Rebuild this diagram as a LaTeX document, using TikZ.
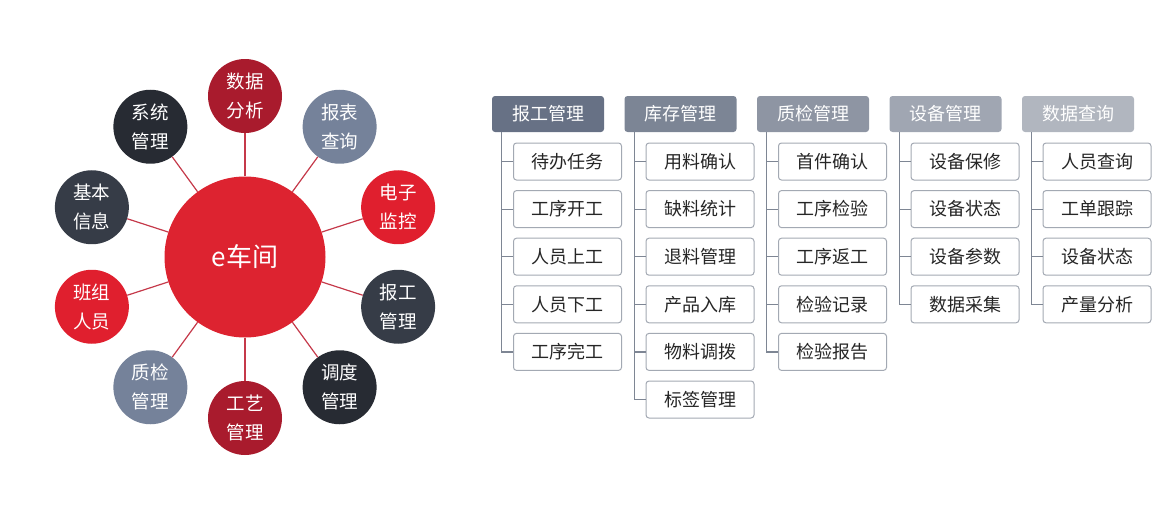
\documentclass[tikz,border=0pt]{standalone}
\usepackage{fontspec}
\setmainfont{Noto Sans CJK SC}
\usepackage{tikz}
\usetikzlibrary{calc}
\definecolor{hubred}{HTML}{DD2330}
\definecolor{brightred}{HTML}{E01F2E}
\definecolor{winered}{HTML}{A91B2D}
\definecolor{slate}{HTML}{75829A}
\definecolor{darkslate}{HTML}{363C47}
\definecolor{nightslate}{HTML}{272B33}
\definecolor{spokered}{HTML}{C5394A}
\definecolor{boxline}{HTML}{A3A9B3}
\definecolor{treeline}{HTML}{7E8694}
\tikzset{
    hubnode/.style={circle, fill=hubred, text=white, minimum size=161pt, inner sep=0pt, font=\fontsize{26}{30}\selectfont},
    sat/.style={circle, text=white, minimum size=74pt, inner sep=0pt, align=center, font=\fontsize{18.5}{29}\selectfont},
    spoke/.style={draw=spokered, line width=1.2pt},
    head/.style={rounded corners=3pt, text=white, minimum width=112pt, minimum height=36pt, inner sep=0pt, font=\fontsize{18}{20}\selectfont},
    item/.style={draw=boxline, line width=1pt, rounded corners=3pt, fill=white, text=black!85, minimum width=108pt, minimum height=37pt, inner sep=0pt, font=\fontsize{18}{20}\selectfont},
    branch/.style={draw=treeline, line width=1.2pt}
}

\begin{document}
\begin{tikzpicture}[x=1pt, y=1pt]
    \useasboundingbox (0,0) rectangle (1152,-514);

    % Nodes
    \node[hubnode] (hub) at (245,-257) {e车间};
    \node[sat, fill=winered] (shujufenxi) at ($(hub)+(90:161)$) {数据\\分析};
    \node[sat, fill=slate] (baobiao) at ($(hub)+(54:161)$) {报表\\查询};
    \node[sat, fill=brightred] (jiankong) at ($(hub)+(18:161)$) {电子\\监控};
    \node[sat, fill=darkslate] (baogongsat) at ($(hub)+(-18:161)$) {报工\\管理};
    \node[sat, fill=nightslate] (diaodu) at ($(hub)+(-54:161)$) {调度\\管理};
    \node[sat, fill=winered] (gongyi) at ($(hub)+(-90:161)$) {工艺\\管理};
    \node[sat, fill=slate] (zhijiansat) at ($(hub)+(-126:161)$) {质检\\管理};
    \node[sat, fill=brightred] (banzu) at ($(hub)+(-162:161)$) {班组\\人员};
    \node[sat, fill=darkslate] (jiben) at ($(hub)+(162:161)$) {基本\\信息};
    \node[sat, fill=nightslate] (xitong) at ($(hub)+(126:161)$) {系统\\管理};

    % edges
    \draw[spoke] (hub) -- (shujufenxi);
    \draw[spoke] (hub) -- (baobiao);
    \draw[spoke] (hub) -- (jiankong);
    \draw[spoke] (hub) -- (baogongsat);
    \draw[spoke] (hub) -- (diaodu);
    \draw[spoke] (hub) -- (gongyi);
    \draw[spoke] (hub) -- (zhijiansat);
    \draw[spoke] (hub) -- (banzu);
    \draw[spoke] (hub) -- (jiben);
    \draw[spoke] (hub) -- (xitong);

    % column heads
    \node[head, fill={rgb,255:red,103;green,113;blue,133}] (baogong) at (548,-114) {报工管理};
    \node[head, fill={rgb,255:red,124;green,133;blue,149}] (kucun) at (680.5,-114) {库存管理};
    \node[head, fill={rgb,255:red,142;green,149;blue,163}] (zhijian) at (813,-114) {质检管理};
    \node[head, fill={rgb,255:red,160;green,166;blue,178}] (shebei) at (945.5,-114) {设备管理};
    \node[head, fill={rgb,255:red,177;green,182;blue,191}] (shuju) at (1078,-114) {数据查询};

    % items
    \node[item] (baogong-1) at (567.5,-161.5) {待办任务};
    \node[item] (baogong-2) at (567.5,-209.1) {工序开工};
    \node[item] (baogong-3) at (567.5,-256.7) {人员上工};
    \node[item] (baogong-4) at (567.5,-304.3) {人员下工};
    \node[item] (baogong-5) at (567.5,-351.9) {工序完工};

    \node[item] (kucun-1) at (700,-161.5) {用料确认};
    \node[item] (kucun-2) at (700,-209.1) {缺料统计};
    \node[item] (kucun-3) at (700,-256.7) {退料管理};
    \node[item] (kucun-4) at (700,-304.3) {产品入库};
    \node[item] (kucun-5) at (700,-351.9) {物料调拨};
    \node[item] (kucun-6) at (700,-399.5) {标签管理};

    \node[item] (zhijian-1) at (832.5,-161.5) {首件确认};
    \node[item] (zhijian-2) at (832.5,-209.1) {工序检验};
    \node[item] (zhijian-3) at (832.5,-256.7) {工序返工};
    \node[item] (zhijian-4) at (832.5,-304.3) {检验记录};
    \node[item] (zhijian-5) at (832.5,-351.9) {检验报告};

    \node[item] (shebei-1) at (965,-161.5) {设备保修};
    \node[item] (shebei-2) at (965,-209.1) {设备状态};
    \node[item] (shebei-3) at (965,-256.7) {设备参数};
    \node[item] (shebei-4) at (965,-304.3) {数据采集};

    \node[item] (shuju-1) at (1097,-161.5) {人员查询};
    \node[item] (shuju-2) at (1097,-209.1) {工单跟踪};
    \node[item] (shuju-3) at (1097,-256.7) {设备状态};
    \node[item] (shuju-4) at (1097,-304.3) {产量分析};

    % tree lines
    \draw[branch] ([xshift=10pt]baogong.south west) |- (baogong-1.west);
    \draw[branch] ([xshift=10pt]baogong.south west) |- (baogong-2.west);
    \draw[branch] ([xshift=10pt]baogong.south west) |- (baogong-3.west);
    \draw[branch] ([xshift=10pt]baogong.south west) |- (baogong-4.west);
    \draw[branch] ([xshift=10pt]baogong.south west) |- (baogong-5.west);

    \draw[branch] ([xshift=10pt]kucun.south west) |- (kucun-1.west);
    \draw[branch] ([xshift=10pt]kucun.south west) |- (kucun-2.west);
    \draw[branch] ([xshift=10pt]kucun.south west) |- (kucun-3.west);
    \draw[branch] ([xshift=10pt]kucun.south west) |- (kucun-4.west);
    \draw[branch] ([xshift=10pt]kucun.south west) |- (kucun-5.west);
    \draw[branch] ([xshift=10pt]kucun.south west) |- (kucun-6.west);

    \draw[branch] ([xshift=10pt]zhijian.south west) |- (zhijian-1.west);
    \draw[branch] ([xshift=10pt]zhijian.south west) |- (zhijian-2.west);
    \draw[branch] ([xshift=10pt]zhijian.south west) |- (zhijian-3.west);
    \draw[branch] ([xshift=10pt]zhijian.south west) |- (zhijian-4.west);
    \draw[branch] ([xshift=10pt]zhijian.south west) |- (zhijian-5.west);

    \draw[branch] ([xshift=10pt]shebei.south west) |- (shebei-1.west);
    \draw[branch] ([xshift=10pt]shebei.south west) |- (shebei-2.west);
    \draw[branch] ([xshift=10pt]shebei.south west) |- (shebei-3.west);
    \draw[branch] ([xshift=10pt]shebei.south west) |- (shebei-4.west);

    \draw[branch] ([xshift=10pt]shuju.south west) |- (shuju-1.west);
    \draw[branch] ([xshift=10pt]shuju.south west) |- (shuju-2.west);
    \draw[branch] ([xshift=10pt]shuju.south west) |- (shuju-3.west);
    \draw[branch] ([xshift=10pt]shuju.south west) |- (shuju-4.west);
\end{tikzpicture}
\end{document}
